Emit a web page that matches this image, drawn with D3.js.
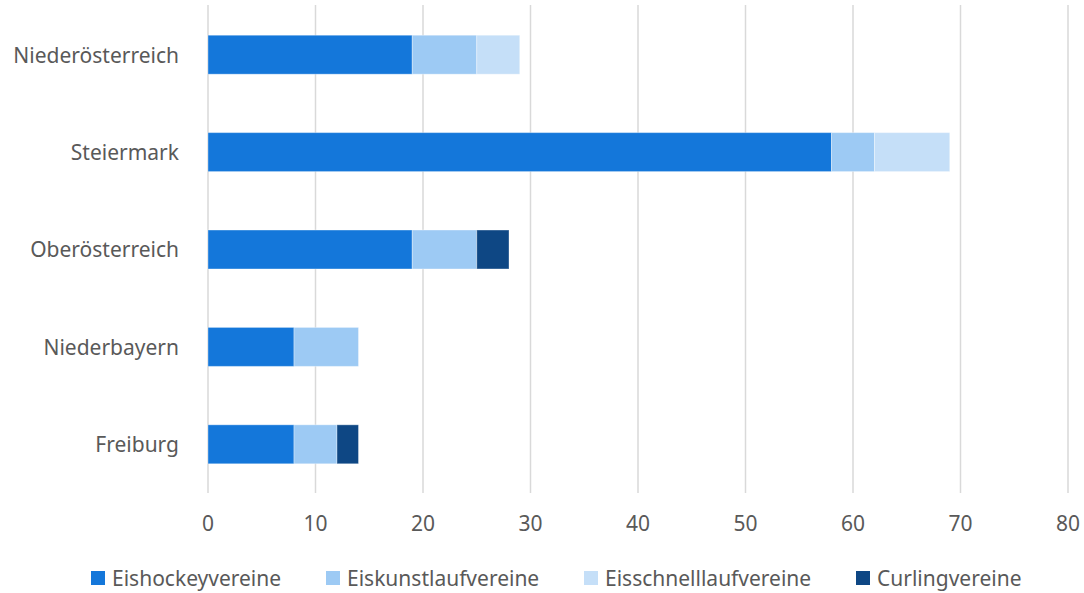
<!DOCTYPE html>
<html>
<head>
<meta charset="utf-8">
<script src="https://cdn.jsdelivr.net/npm/d3@7"></script>
<style>
  body { margin: 0; background: #fff; }
  text { font-family: "Noto Sans", "Open Sans", sans-serif; }
</style>
</head>
<body>
<div id="chart"></div>
<script>
const width = 1084;
const height = 593;

const regions = ["Niederösterreich", "Steiermark", "Oberösterreich", "Niederbayern", "Freiburg"];
const seriesNames = ["Eishockeyvereine", "Eiskunstlaufvereine", "Eisschnelllaufvereine", "Curlingvereine"];
const eishockey = [19, 58, 19, 8, 8];
const eiskunstlauf = [6, 4, 6, 6, 4];
const eisschnelllauf = [4, 7, 0, 0, 0];
const curling = [0, 0, 3, 0, 2];
const xTicks = [0, 10, 20, 30, 40, 50, 60, 70, 80];
const colors = ["#1477da", "#9dcaf4", "#c5dff8", "#0e4784"];

const margin = { top: 6, right: 16, bottom: 100, left: 208 };

const rows = regions.map((r, i) => ({
    region: r,
    Eishockeyvereine: eishockey[i],
    Eiskunstlaufvereine: eiskunstlauf[i],
    Eisschnelllaufvereine: eisschnelllauf[i],
    Curlingvereine: curling[i]
}));

const stacked = d3.stack().keys(seriesNames)(rows);

const x = d3.scaleLinear()
    .domain([0, 80])
    .range([margin.left, width - margin.right]);

const y = d3.scaleBand()
    .domain(regions)
    .range([margin.top, height - margin.bottom])
    .paddingInner(0.6)
    .paddingOuter(0.3);

const color = d3.scaleOrdinal(seriesNames, colors);

const svg = d3.select("#chart").append("svg")
    .attr("width", width)
    .attr("height", height)
    .attr("viewBox", [0, 0, width, height]);

// gridlines
svg.append("g")
    .attr("stroke", "#d9d9d9")
    .attr("stroke-width", 1.5)
    .selectAll("line")
    .data(xTicks)
    .join("line")
    .attr("x1", d => x(d))
    .attr("x2", d => x(d))
    .attr("y1", margin.top - 1)
    .attr("y2", height - margin.bottom);

// bars
svg.append("g")
    .selectAll("g")
    .data(stacked)
    .join("g")
    .attr("fill", d => color(d.key))
    .selectAll("rect")
    .data(d => d.filter(s => s[1] - s[0] > 0))
    .join("rect")
    .attr("x", d => x(d[0]))
    .attr("y", d => y(d.data.region))
    .attr("width", d => x(d[1]) - x(d[0]))
    .attr("height", y.bandwidth())
    .attr("stroke", "#ffffff")
    .attr("stroke-opacity", 0.35)
    .attr("stroke-width", 1);

// category labels
svg.append("g")
    .attr("fill", "#595959")
    .attr("font-size", 21)
    .selectAll("text")
    .data(regions)
    .join("text")
    .attr("x", margin.left - 29)
    .attr("y", d => y(d) + y.bandwidth() / 2)
    .attr("dy", "0.38em")
    .attr("text-anchor", "end")
    .text(d => d);

// x tick labels
svg.append("g")
    .attr("fill", "#595959")
    .attr("font-size", 21)
    .selectAll("text")
    .data(xTicks)
    .join("text")
    .attr("x", d => x(d))
    .attr("y", 523)
    .attr("dy", "0.38em")
    .attr("text-anchor", "middle")
    .text(d => d);

// legend
const legendX = [91, 326, 584, 856];
const legend = svg.append("g")
    .selectAll("g")
    .data(seriesNames)
    .join("g")
    .attr("transform", (d, i) => `translate(${legendX[i]},578)`);

legend.append("rect")
    .attr("x", 0)
    .attr("y", -7)
    .attr("width", 14)
    .attr("height", 14)
    .attr("fill", d => color(d));

legend.append("text")
    .attr("x", 21)
    .attr("dy", "0.38em")
    .attr("fill", "#595959")
    .attr("font-size", 21)
    .text(d => d);
</script>
</body>
</html>
